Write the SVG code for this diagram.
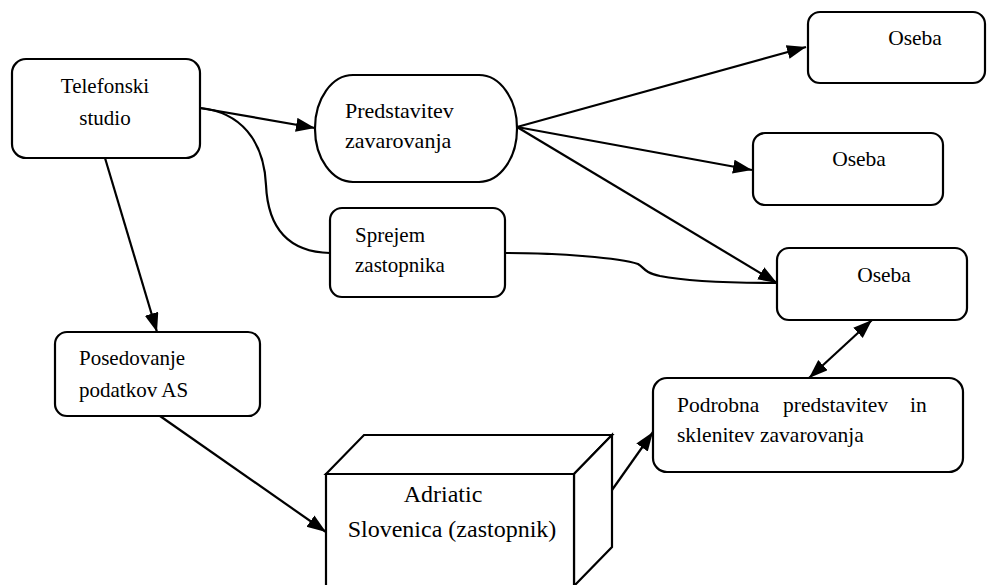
<svg xmlns="http://www.w3.org/2000/svg" width="990" height="585" viewBox="0 0 990 585">
<style>
.box{fill:#fff;stroke:#000;stroke-width:2.2}
.ln{fill:none;stroke:#000;stroke-width:2.2}
.t{font-family:"Liberation Serif","Times New Roman",serif;font-size:21px;fill:#000}
.tc{text-anchor:middle}
</style>
<defs>
<marker id="ah" markerUnits="userSpaceOnUse" markerWidth="22" markerHeight="16" refX="19" refY="7" orient="auto-start-reverse">
<path d="M0,0 L19,7 L0,14 z" fill="#000"/>
</marker>
</defs>
<g id="connectors">
<path class="ln" d="M200,108 L315,128" marker-end="url(#ah)"/>
<path class="ln" d="M200,108 C240,112 264,140 266,185 C268,230 290,252 330,253"/>
<path class="ln" d="M105,158 L157,332" marker-end="url(#ah)"/>
<path class="ln" d="M517,127 L806,47" marker-end="url(#ah)"/>
<path class="ln" d="M517,127 L752,170" marker-end="url(#ah)"/>
<path class="ln" d="M505,253 C560,253 620,258 638,264 C645,268 643,272 660,276 C690,282 730,283 777,283"/>
<path class="ln" d="M517,127 L777,283" marker-end="url(#ah)"/>
<path class="ln" d="M160,416 L326,532" marker-end="url(#ah)"/>
<path class="ln" d="M612,490 L653,432" marker-end="url(#ah)"/>
<path class="ln" d="M809,378 L872,320" marker-start="url(#ah)" marker-end="url(#ah)"/>
</g>
<g id="telefonski">
<rect class="box" x="12" y="59" width="188" height="99" rx="14"/>
<text class="t tc" x="105" y="93">Telefonski</text>
<text class="t tc" x="105" y="125">studio</text>
</g>
<g id="predstavitev">
<rect class="box" x="315" y="75" width="202" height="107" rx="38" ry="53"/>
<text class="t" x="345" y="118" style="font-size:22px">Predstavitev</text>
<text class="t" x="345" y="148" style="font-size:22px">zavarovanja</text>
</g>
<g id="sprejem">
<rect class="box" x="330" y="208" width="175" height="89" rx="12"/>
<text class="t" x="355" y="242">Sprejem</text>
<text class="t" x="355" y="272">zastopnika</text>
</g>
<g id="oseba1">
<rect class="box" x="808" y="12" width="177" height="71" rx="12"/>
<text class="t tc" x="915" y="45" style="font-size:21.5px">Oseba</text>
</g>
<g id="oseba2">
<rect class="box" x="753" y="133" width="190" height="72" rx="12"/>
<text class="t tc" x="859" y="166" style="font-size:21.5px">Oseba</text>
</g>
<g id="oseba3">
<rect class="box" x="777" y="248" width="190" height="72" rx="12"/>
<text class="t tc" x="884" y="282" style="font-size:21.5px">Oseba</text>
</g>
<g id="posedovanje">
<rect class="box" x="55" y="332" width="205" height="84" rx="12"/>
<text class="t" x="79" y="365">Posedovanje</text>
<text class="t" x="79" y="397">podatkov AS</text>
</g>
<g id="adriatic">
<path class="box" d="M326,474 L364,435 L612,435 L574,474 Z"/>
<path class="box" d="M574,474 L612,435 L612,547 L574,586 Z"/>
<path class="box" d="M326,590 L326,474 L574,474 L574,590"/>
<text class="t tc" x="443" y="502" style="font-size:24px">Adriatic</text>
<text class="t tc" x="452" y="537" style="font-size:24px">Slovenica (zastopnik)</text>
</g>
<g id="podrobna">
<rect class="box" x="653" y="378" width="310" height="94" rx="14"/>
<text class="t" x="677" y="412" style="font-size:21.5px">Podrobna</text>
<text class="t" x="783" y="412" style="font-size:21.5px">predstavitev</text>
<text class="t" x="910" y="412" style="font-size:21.5px">in</text>
<text class="t" x="677" y="442" style="font-size:21.5px">sklenitev zavarovanja</text>
</g>
</svg>
